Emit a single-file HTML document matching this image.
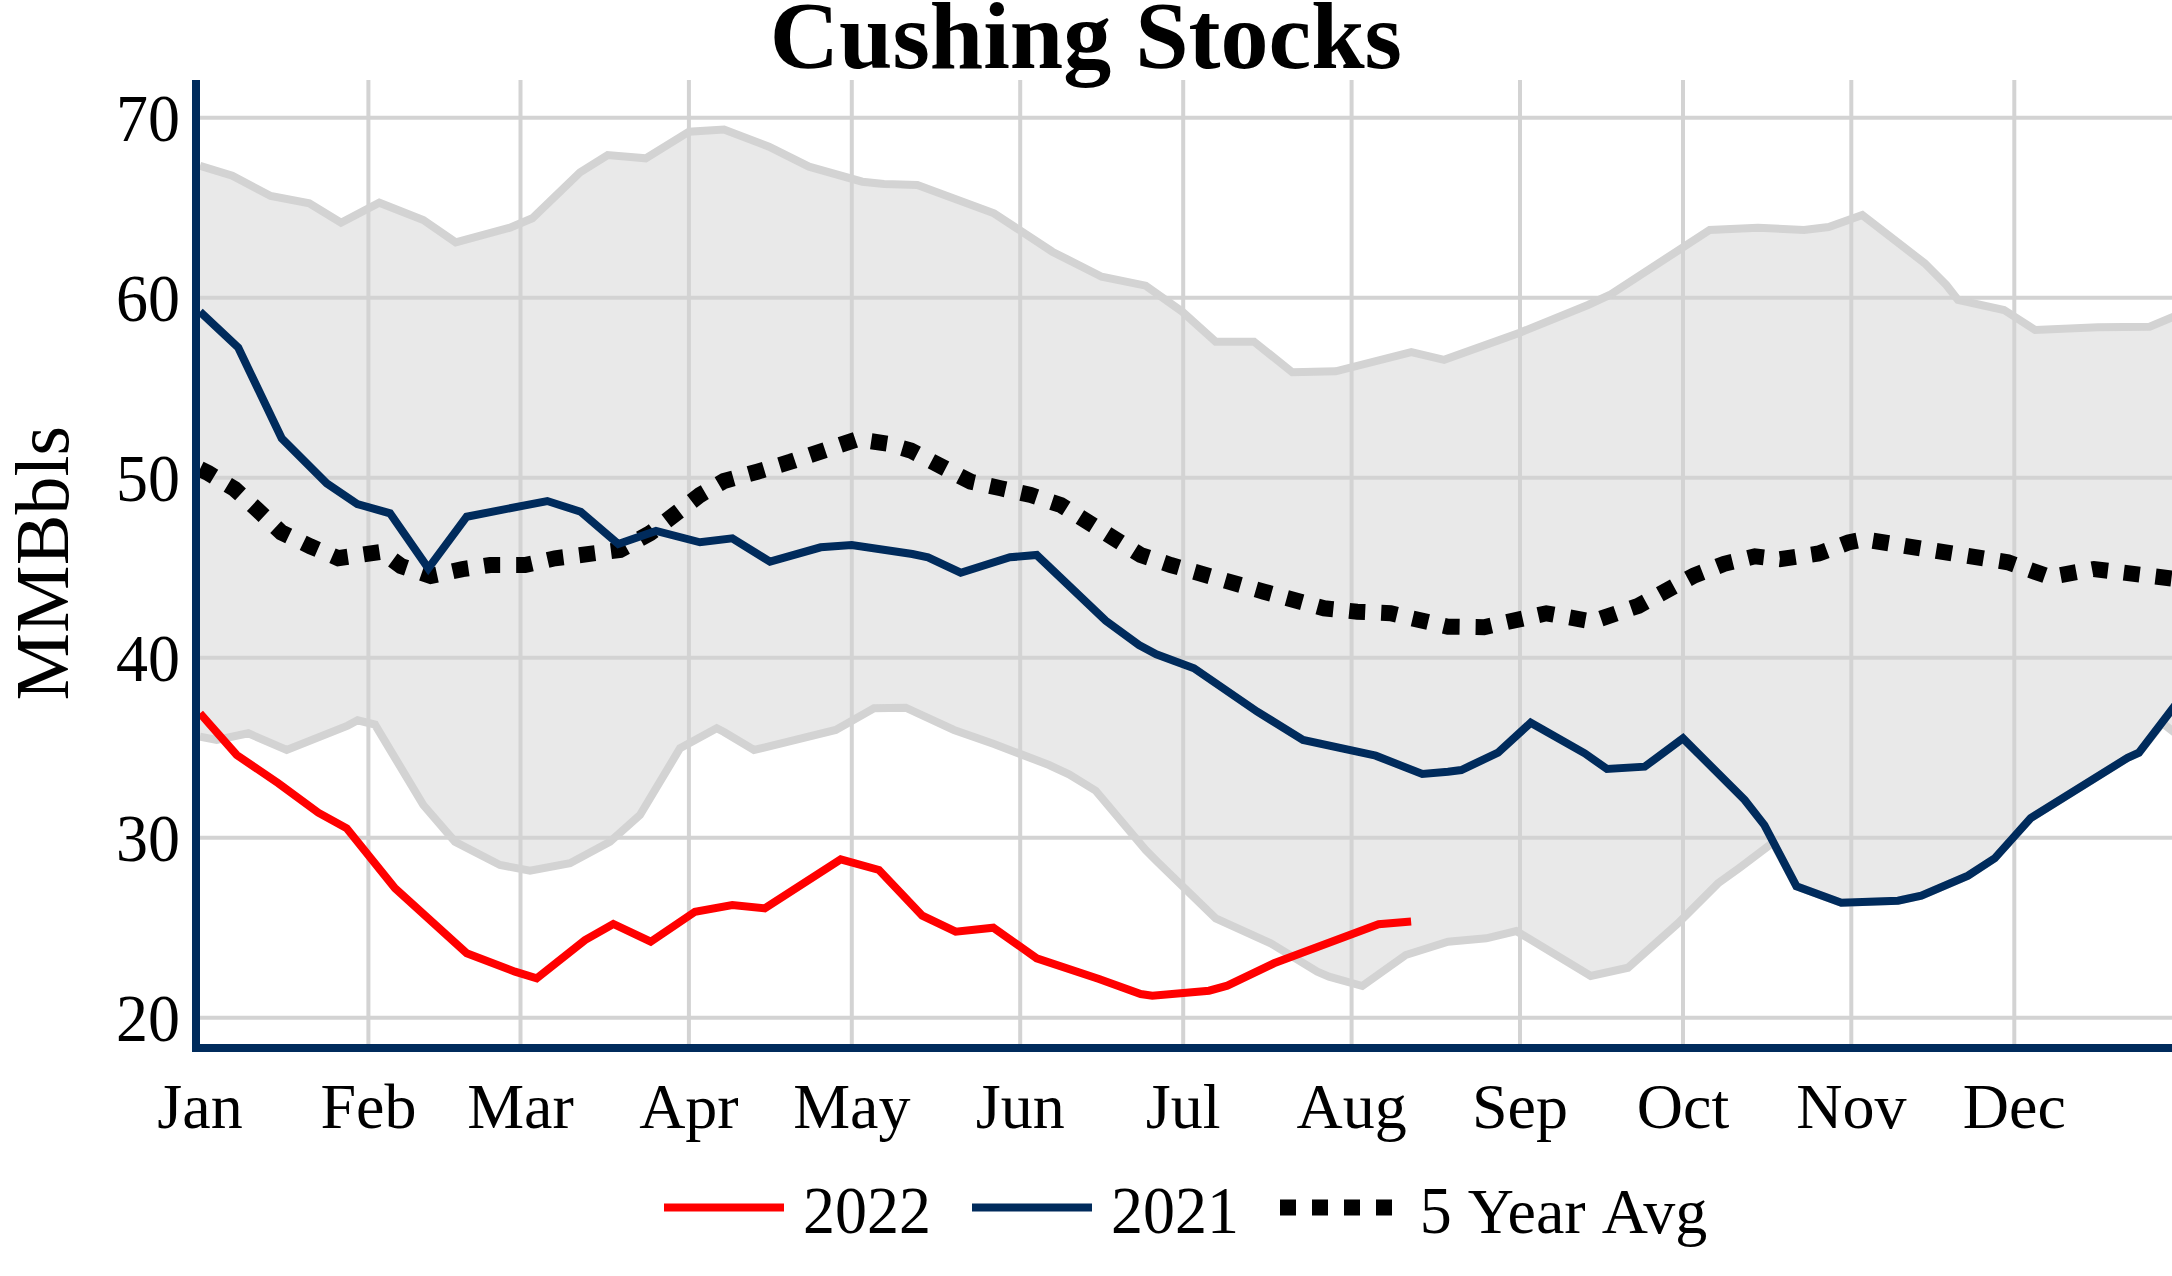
<!DOCTYPE html>
<html><head><meta charset="utf-8"><title>Cushing Stocks</title>
<style>
html,body{margin:0;padding:0;background:#fff;}
svg{display:block;}
text{font-family:"Liberation Serif",serif;fill:#000;font-kerning:none;font-variant-ligatures:none;}
</style></head><body>
<svg width="2172" height="1276" viewBox="0 0 2172 1276">
<rect x="0" y="0" width="2172" height="1276" fill="#ffffff"/>
<defs><clipPath id="plot"><rect x="200" y="80" width="1972" height="964"/></clipPath></defs>

<g stroke="#d3d3d3" stroke-width="4" fill="none">
<line x1="368.4" y1="80" x2="368.4" y2="1044"/>
<line x1="520.5" y1="80" x2="520.5" y2="1044"/>
<line x1="688.9" y1="80" x2="688.9" y2="1044"/>
<line x1="851.8" y1="80" x2="851.8" y2="1044"/>
<line x1="1020.2" y1="80" x2="1020.2" y2="1044"/>
<line x1="1183.2" y1="80" x2="1183.2" y2="1044"/>
<line x1="1351.6" y1="80" x2="1351.6" y2="1044"/>
<line x1="1520.0" y1="80" x2="1520.0" y2="1044"/>
<line x1="1683.0" y1="80" x2="1683.0" y2="1044"/>
<line x1="1851.3" y1="80" x2="1851.3" y2="1044"/>
<line x1="2014.3" y1="80" x2="2014.3" y2="1044"/>
<line x1="200" y1="117.7" x2="2172" y2="117.7"/>
<line x1="200" y1="297.7" x2="2172" y2="297.7"/>
<line x1="200" y1="477.7" x2="2172" y2="477.7"/>
<line x1="200" y1="657.7" x2="2172" y2="657.7"/>
<line x1="200" y1="837.7" x2="2172" y2="837.7"/>
<line x1="200" y1="1017.7" x2="2172" y2="1017.7"/>
</g>
<g clip-path="url(#plot)">
<polygon points="200.0,165.7 232.3,175.7 270.7,196.0 309.3,203.3 341.0,222.7 379.3,202.7 423.3,220.0 455.7,242.3 510.0,227.7 532.3,218.3 580.0,172.3 607.7,155.0 645.7,158.3 689.0,131.7 724.0,129.6 769.0,146.7 809.0,166.7 862.3,181.7 884.0,184.0 917.3,185.0 994.0,213.3 1052.3,251.7 1101.7,276.7 1145.7,285.7 1182.3,311.7 1215.7,341.7 1254.0,341.7 1292.3,372.3 1335.7,371.3 1411.3,352.1 1444.1,359.8 1519.7,332.7 1588.0,305.0 1609.7,295.0 1709.7,230.0 1758.0,227.7 1804.0,230.0 1828.7,227.0 1862.3,215.0 1924.7,263.3 1946.3,285.0 1958.0,300.0 2004.0,310.0 2035.3,330.0 2098.0,327.3 2149.7,326.7 2180.0,314.0 2180.0,737.0 2162.4,723.0 2138.9,752.7 2127.6,757.8 2030.7,818.0 1994.7,858.3 1968.0,875.7 1921.3,895.7 1898.0,900.7 1841.3,902.7 1796.4,886.2 1773.0,842.5 1740.0,867.4 1718.0,883.3 1678.0,923.3 1628.0,967.7 1590.7,976.0 1516.3,931.0 1486.3,938.3 1448.0,941.7 1405.7,955.0 1362.3,986.0 1329.0,976.7 1317.3,971.7 1270.7,943.3 1215.7,918.3 1157.3,861.7 1145.7,850.0 1095.7,790.7 1069.0,774.3 1049.0,765.0 994.0,744.0 954.0,730.0 905.7,707.7 874.0,708.3 835.7,730.0 754.0,750.0 724.0,732.0 716.7,728.3 680.0,748.3 640.0,815.0 610.0,841.7 570.0,863.3 530.0,870.7 500.0,865.0 455.0,841.7 423.3,805.0 375.0,724.6 357.6,720.3 347.7,725.6 286.7,750.0 248.3,733.3 216.7,740.0 200.0,736.7" fill="rgb(211,211,211)" fill-opacity="0.5" stroke="none"/>
<path d="M200.0,165.7 L232.3,175.7 L270.7,196.0 L309.3,203.3 L341.0,222.7 L379.3,202.7 L423.3,220.0 L455.7,242.3 L510.0,227.7 L532.3,218.3 L580.0,172.3 L607.7,155.0 L645.7,158.3 L689.0,131.7 L724.0,129.6 L769.0,146.7 L809.0,166.7 L862.3,181.7 L884.0,184.0 L917.3,185.0 L994.0,213.3 L1052.3,251.7 L1101.7,276.7 L1145.7,285.7 L1182.3,311.7 L1215.7,341.7 L1254.0,341.7 L1292.3,372.3 L1335.7,371.3 L1411.3,352.1 L1444.1,359.8 L1519.7,332.7 L1588.0,305.0 L1609.7,295.0 L1709.7,230.0 L1758.0,227.7 L1804.0,230.0 L1828.7,227.0 L1862.3,215.0 L1924.7,263.3 L1946.3,285.0 L1958.0,300.0 L2004.0,310.0 L2035.3,330.0 L2098.0,327.3 L2149.7,326.7 L2180.0,314.0" fill="none" stroke="#d3d3d3" stroke-width="8" stroke-linejoin="miter" stroke-miterlimit="2"/>
<path d="M200.0,736.7 L216.7,740.0 L248.3,733.3 L286.7,750.0 L347.7,725.6 L357.6,720.3 L375.0,724.6 L423.3,805.0 L455.0,841.7 L500.0,865.0 L530.0,870.7 L570.0,863.3 L610.0,841.7 L640.0,815.0 L680.0,748.3 L716.7,728.3 L724.0,732.0 L754.0,750.0 L835.7,730.0 L874.0,708.3 L905.7,707.7 L954.0,730.0 L994.0,744.0 L1049.0,765.0 L1069.0,774.3 L1095.7,790.7 L1145.7,850.0 L1157.3,861.7 L1215.7,918.3 L1270.7,943.3 L1317.3,971.7 L1329.0,976.7 L1362.3,986.0 L1405.7,955.0 L1448.0,941.7 L1486.3,938.3 L1516.3,931.0 L1590.7,976.0 L1628.0,967.7 L1678.0,923.3 L1718.0,883.3 L1740.0,867.4 L1773.0,842.5 L1796.4,886.2 L1841.3,902.7 L1898.0,900.7 L1921.3,895.7 L1968.0,875.7 L1994.7,858.3 L2030.7,818.0 L2127.6,757.8 L2138.9,752.7 L2162.4,723.0 L2180.0,737.0" fill="none" stroke="#d3d3d3" stroke-width="8" stroke-linejoin="miter" stroke-miterlimit="2"/>
<path d="M200.0,469.0 L208.3,473.1 L234.6,489.0 L258.0,510.4 L281.5,532.5 L310.5,546.4 L338.2,558.2 L381.7,551.8 L401.0,566.0 L430.7,576.0 L462.5,569.1 L490.0,565.0 L525.0,565.0 L555.0,558.3 L620.0,550.0 L650.0,533.3 L700.0,495.0 L724.0,481.0 L757.3,471.7 L790.7,461.7 L857.3,439.2 L888.0,443.8 L910.7,450.5 L970.7,481.7 L1000.7,488.3 L1030.7,495.0 L1060.7,505.0 L1140.7,555.0 L1170.7,565.0 L1264.0,591.7 L1324.0,608.3 L1357.3,611.7 L1390.7,613.3 L1448.0,626.7 L1484.0,627.2 L1546.3,613.3 L1592.5,621.5 L1638.4,605.8 L1694.1,575.5 L1724.2,563.8 L1754.9,556.3 L1780.0,559.2 L1818.7,553.5 L1848.4,542.5 L1864.0,539.3 L2008.0,562.3 L2050.0,577.0 L2094.0,569.0 L2180.0,579.5" fill="none" stroke="#000" stroke-width="16" stroke-dasharray="16,16" stroke-linejoin="miter" stroke-miterlimit="2"/>
<path d="M200.0,311.7 L238.3,347.7 L281.7,438.3 L326.7,483.3 L357.3,504.0 L390.0,513.3 L428.3,568.3 L466.7,516.7 L547.3,501.0 L580.7,511.7 L618.3,544.0 L656.0,531.0 L700.0,542.3 L732.3,538.3 L770.0,561.7 L820.7,547.3 L851.7,545.0 L912.3,554.0 L928.0,557.3 L960.7,572.7 L1010.0,557.3 L1036.7,555.0 L1105.7,620.7 L1139.0,645.0 L1156.3,654.3 L1194.0,668.3 L1257.3,711.7 L1303.0,740.0 L1375.7,755.7 L1422.3,774.0 L1448.0,771.7 L1461.3,770.0 L1498.0,752.7 L1530.7,722.7 L1584.7,753.3 L1607.0,769.0 L1644.7,766.7 L1683.0,738.3 L1744.7,800.0 L1764.4,825.1 L1796.4,886.2 L1841.3,902.7 L1898.0,900.7 L1921.3,895.7 L1968.0,875.7 L1994.7,858.3 L2030.7,818.0 L2127.6,757.8 L2138.9,752.7 L2180.0,699.0" fill="none" stroke="#002B5C" stroke-width="8" stroke-linejoin="miter" stroke-miterlimit="2"/>
<path d="M200.0,713.3 L236.7,755.0 L278.3,783.3 L318.3,812.7 L346.7,828.3 L395.0,888.3 L466.7,953.3 L515.0,971.7 L536.7,978.3 L585.0,940.0 L613.3,924.0 L650.7,941.7 L695.0,911.7 L732.3,905.0 L764.7,908.3 L840.7,859.3 L879.0,870.0 L922.3,915.7 L955.7,931.7 L993.3,927.7 L1036.7,958.3 L1099.0,979.0 L1140.7,994.0 L1152.3,995.7 L1209.0,990.7 L1227.3,985.7 L1274.0,963.3 L1378.6,924.2 L1411.1,921.4" fill="none" stroke="#ff0000" stroke-width="8" stroke-linejoin="miter" stroke-miterlimit="2"/>
</g>
<path d="M196,80 V1048 H2172" fill="none" stroke="#002B5C" stroke-width="8" stroke-linecap="butt" stroke-linejoin="miter"/>
<text x="1085.8" y="67.6" font-size="96" font-weight="bold" text-anchor="middle">Cushing Stocks</text>
<text transform="translate(180,140.5) scale(1,1.045)" font-size="64" text-anchor="end">70</text>
<text transform="translate(180,320.5) scale(1,1.045)" font-size="64" text-anchor="end">60</text>
<text transform="translate(180,500.5) scale(1,1.045)" font-size="64" text-anchor="end">50</text>
<text transform="translate(180,680.5) scale(1,1.045)" font-size="64" text-anchor="end">40</text>
<text transform="translate(180,860.5) scale(1,1.045)" font-size="64" text-anchor="end">30</text>
<text transform="translate(180,1040.5) scale(1,1.045)" font-size="64" text-anchor="end">20</text>
<text x="200" y="1128.3" font-size="64" text-anchor="middle">Jan</text>
<text x="368.4" y="1128.3" font-size="64" text-anchor="middle">Feb</text>
<text x="520.5" y="1128.3" font-size="64" text-anchor="middle">Mar</text>
<text x="688.9" y="1128.3" font-size="64" text-anchor="middle">Apr</text>
<text x="851.8" y="1128.3" font-size="64" text-anchor="middle">May</text>
<text x="1020.2" y="1128.3" font-size="64" text-anchor="middle">Jun</text>
<text x="1183.2" y="1128.3" font-size="64" text-anchor="middle">Jul</text>
<text x="1351.6" y="1128.3" font-size="64" text-anchor="middle">Aug</text>
<text x="1520.0" y="1128.3" font-size="64" text-anchor="middle">Sep</text>
<text x="1683.0" y="1128.3" font-size="64" text-anchor="middle">Oct</text>
<text x="1851.3" y="1128.3" font-size="64" text-anchor="middle">Nov</text>
<text x="2014.3" y="1128.3" font-size="64" text-anchor="middle">Dec</text>
<text transform="translate(67.7,563.2) rotate(-90)" font-size="76" text-anchor="middle">MMBbls</text>
<line x1="664" y1="1207.5" x2="784" y2="1207.5" stroke="#ff0000" stroke-width="8"/>
<text transform="translate(803,1233.3) scale(1,1.045)" font-size="64">2022</text>
<line x1="972" y1="1207.5" x2="1092" y2="1207.5" stroke="#002B5C" stroke-width="8"/>
<text transform="translate(1111,1233.3) scale(1,1.045)" font-size="64">2021</text>
<line x1="1280" y1="1207.5" x2="1400" y2="1207.5" stroke="#000" stroke-width="16" stroke-dasharray="16,16"/>
<text transform="translate(1419.7,1233.3) scale(1,1.045)" font-size="64">5</text>
<text x="1467.7" y="1233.3" font-size="64">Y<tspan dx="-6.4">ear A</tspan><tspan dx="-4.7">vg</tspan></text>
</svg></body></html>
